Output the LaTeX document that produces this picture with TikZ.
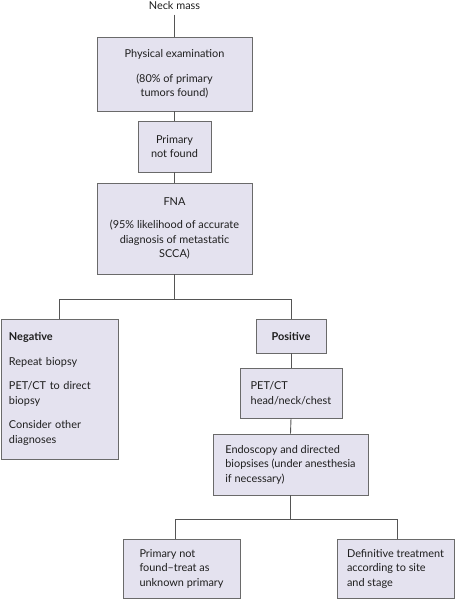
\documentclass[tikz,border=0pt]{standalone}
\usepackage{fontspec}
\setmainfont{Lato}
\definecolor{boxfill}{HTML}{E4E2EF}
\definecolor{boxline}{HTML}{6A6A6A}
\definecolor{txt}{HTML}{1E1E1E}
\begin{document}
\begin{tikzpicture}[x=1pt,y=-1pt,
  every node/.style={text=txt, font=\fontsize{10.9}{14.5}\selectfont},
  box/.style={draw=boxline, fill=boxfill, line width=0.9pt, inner sep=0pt},
  cbox/.style={box, align=center},
  lbox/.style={box, align=left},
  conn/.style={draw=boxline!80!black, line width=0.9pt}]
\useasboundingbox (0,0) rectangle (455,600);
\node (neck) at (174.5,6) {Neck mass};
\node[cbox, minimum width=155pt, minimum height=74pt] (pe) at (174.5,74)
  {Physical examination\\[10pt](80\% of primary\\tumors found)};
\node[cbox, minimum width=73pt, minimum height=51pt] (pnf) at (174.5,146.5)
  {Primary\\not found};
\node[cbox, minimum width=155pt, minimum height=91pt] (fna) at (174.5,228.5)
  {FNA\\[9pt](95\% likelihood of accurate\\diagnosis of metastatic\\SCCA)};
\node[lbox, text width=101pt, minimum width=117pt, minimum height=140pt] (neg) at (59.5,389)
  {\textbf{Negative}\\[10pt]Repeat biopsy\\[10pt]PET/CT to direct\\biopsy\\[10pt]Consider other\\diagnoses};
\node[cbox, minimum width=70pt, minimum height=34pt] (pos) at (291,336)
  {\textbf{Positive}};
\node[lbox, minimum width=102pt, minimum height=50pt] (pet) at (291,393)
  {PET/CT\\head/neck/chest};
\node[lbox, minimum width=155pt, minimum height=61pt] (endo) at (290.5,464.5)
  {Endoscopy and directed\\biopsises (under anesthesia\\if necessary)};
\node[lbox, minimum width=117pt, minimum height=59pt] (unk) at (181.5,568.5)
  {Primary not\\found--treat as\\unknown primary};
\node[lbox, minimum width=117pt, minimum height=59pt] (def) at (395.5,568.5)
  {Definitive treatment\\according to site\\and stage};
\draw[conn] (neck.south) ++(0,1) -- (pe.north);
\draw[conn] (pe.south) -- (pnf.north);
\draw[conn] (pnf.south) -- (fna.north);
\draw[conn] (fna.south) -- ++(0,25) coordinate (j1);
\draw[conn] (neg.north) |- (j1) -| (pos.north);
\draw[conn] (pos.south) -- (pet.north);
\draw[conn] (pet.south) -- (endo.north);
\draw[conn] (endo.south) -- ++(0,24) coordinate (j2);
\draw[conn] ([xshift=-6.5pt]unk.north) |- (j2) -| ([xshift=1.5pt]def.north);
\end{tikzpicture}
\end{document}
